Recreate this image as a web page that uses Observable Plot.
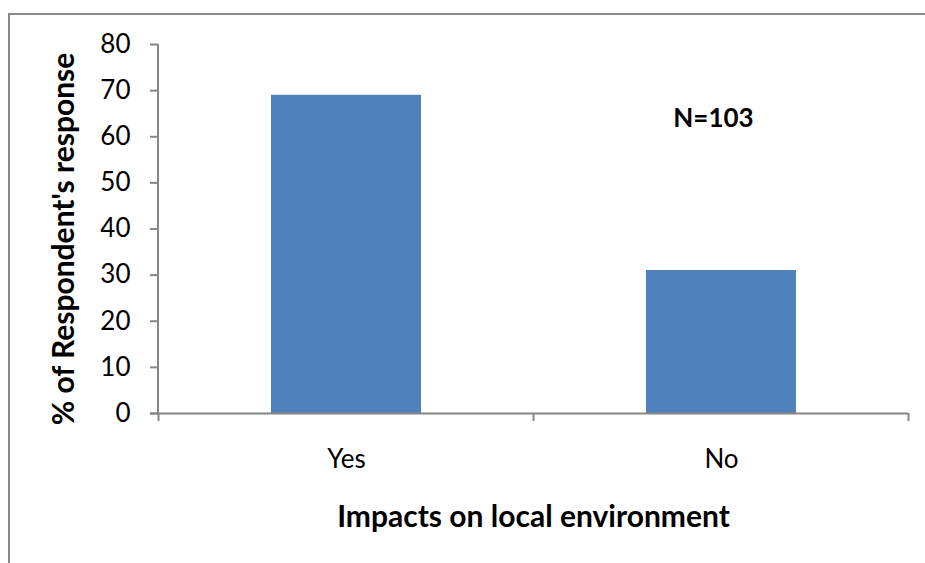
<!DOCTYPE html>
<html>
<head>
<meta charset="utf-8">
<script src="https://cdn.jsdelivr.net/npm/d3@7"></script>
<script src="https://cdn.jsdelivr.net/npm/@observablehq/plot@0.6"></script>
<style>
  html, body { margin: 0; padding: 0; background: #fff; }
  #wrap { position: relative; width: 925px; height: 563px; overflow: hidden; }
  #border { position: absolute; left: 8px; top: 13px; width: 1000px; height: 1000px;
            border-top: 2px solid #8a8a8a; border-left: 2px solid #8a8a8a; box-sizing: border-box; }
  #chart { position: absolute; left: 0; top: 0; }
</style>
</head>
<body>
<div id="wrap"><div id="border"></div><div id="chart"></div></div>
<script>
// Share of respondents who report impacts on the local environment
const categories = ["Yes", "No"];
const percents = [69, 31];
const yTicks = [0, 10, 20, 30, 40, 50, 60, 70, 80];
const notes = [{cat: "No", y: 64, text: "N=103"}];
const xTitle = "Impacts on local environment";
const yTitle = "% of Respondent's response";

const rows = categories.map((c, i) => ({cat: c, pct: percents[i]}));

const axisGray = "#868686";
const font = "Lato, 'Open Sans', sans-serif";
const padInner = 0.6, padOuter = 0.3;

// Category boundary ticks under the x axis (ticks sit between categories)
function boundaryTicks(index, scales, values, dims) {
  const x = scales.x;
  const step = x.step ? x.step() : (dims.width - dims.marginLeft - dims.marginRight) / (categories.length - padInner + 2 * padOuter);
  const bw = x.bandwidth ? x.bandwidth() : step * (1 - padInner);
  const y0 = dims.height - dims.marginBottom;
  const edges = categories.map(c => x(c) - (step - bw) / 2);
  edges.push(edges[edges.length - 1] + step);
  const g = d3.create("svg:g").attr("stroke", axisGray).attr("stroke-width", 2);
  g.selectAll("line.t").data(edges).join("line")
    .attr("x1", d => d).attr("x2", d => d)
    .attr("y1", y0).attr("y2", y0 + 8);
  // vertical axis line
  g.append("line")
    .attr("x1", dims.marginLeft).attr("x2", dims.marginLeft)
    .attr("y1", dims.marginTop).attr("y2", y0);
  return g.node();
}

const chart = Plot.plot({
  width: 925,
  height: 563,
  marginLeft: 158,
  marginRight: 17,
  marginTop: 44,
  marginBottom: 150,
  style: {background: "transparent", color: "#000", fontFamily: font},
  x: {type: "band", domain: categories, paddingInner: padInner, paddingOuter: padOuter, axis: null},
  y: {domain: [0, 80], axis: null},
  marks: [
    Plot.barY(rows, {x: "cat", y: "pct", fill: "#4F81BD"}),
    Plot.ruleY([0], {stroke: axisGray, strokeWidth: 2, insetLeft: -8}),
    boundaryTicks,
    Plot.axisY({ticks: yTicks, tickSize: 8, tickPadding: 20, stroke: axisGray, strokeWidth: 2,
                fontSize: 26, label: null, fill: "#000"}),
    Plot.text(categories, {x: d => d, frameAnchor: "bottom", dy: 54, fontSize: 26, fill: "#000"}),
    Plot.text(notes, {x: "cat", y: "y", text: "text", dx: -8, fontSize: 26, fontWeight: "bold", fill: "#000"}),
    Plot.text([xTitle], {frameAnchor: "bottom", dy: 113, fontSize: 30, fontWeight: "bold", fill: "#000"}),
    Plot.text([yTitle], {frameAnchor: "left", textAnchor: "middle", dx: -94, dy: 10, rotate: -90,
                         fontSize: 30, fontWeight: "bold", fill: "#000"})
  ]
});
document.getElementById("chart").appendChild(chart);
</script>
</body>
</html>
